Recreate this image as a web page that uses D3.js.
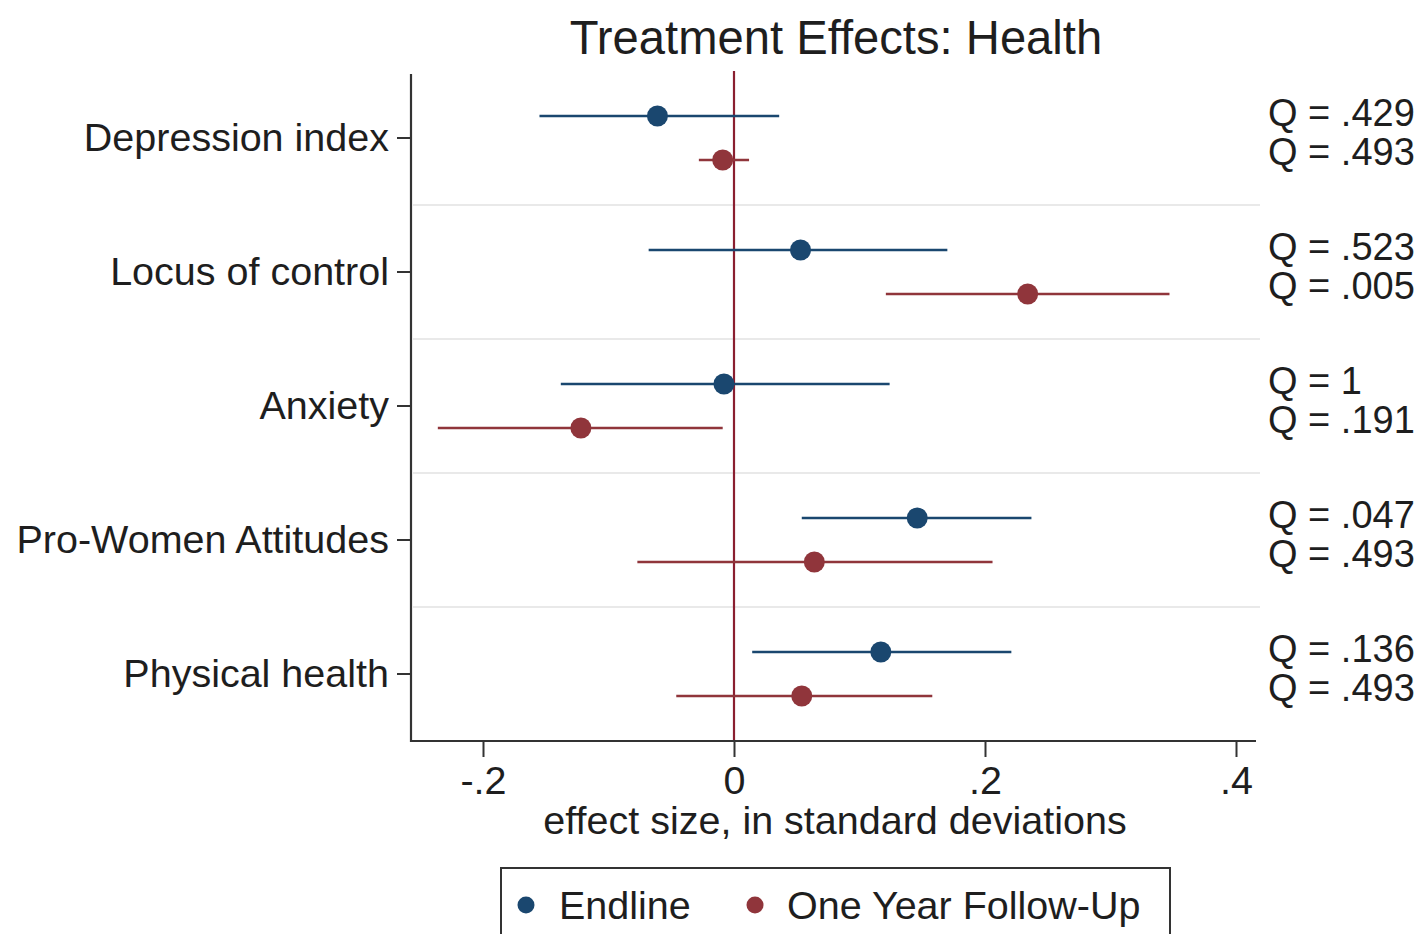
<!DOCTYPE html>
<html>
<head>
<meta charset="utf-8">
<script src="https://cdn.jsdelivr.net/npm/d3@7"></script>
<style>
  html, body { margin: 0; padding: 0; background: #fff; }
  svg { display: block; font-family: "Liberation Sans", Arial, Helvetica, sans-serif; }
</style>
</head>
<body>
<svg id="chart" width="1424" height="934"></svg>
<script>
// Outcome families, top to bottom
const categories = ["Depression index", "Locus of control", "Anxiety", "Pro-Women Attitudes", "Physical health"];

// Point estimates and 95% confidence bounds (effect size, SD units)
const endlineEst  = [-0.061, 0.053, -0.008, 0.146, 0.117];
const endlineLo   = [-0.155, -0.068, -0.138, 0.054, 0.0145];
const endlineHi   = [0.036, 0.170, 0.124, 0.237, 0.221];

const followEst   = [-0.009, 0.234, -0.122, 0.064, 0.054];
const followLo    = [-0.028, 0.121, -0.236, -0.077, -0.046];
const followHi    = [0.012, 0.347, -0.009, 0.206, 0.158];

// Sharpened q-values shown at the right margin
const endlineQ = [".429", ".523", "1", ".047", ".136"];
const followQ  = [".493", ".005", ".191", ".493", ".493"];

const xTicks = [-0.2, 0, 0.2, 0.4];
const xTickLabels = ["-.2", "0", ".2", ".4"];

const seriesNames = ["Endline", "One Year Follow-Up"];
const seriesColors = ["#1a476f", "#90353b"];

const svg = d3.select("#chart");
const FONT = 39.5;
const Q_FONT = 38;
const ink = "#1e1e1e";

const plotLeft = 411, plotRight = 1258, plotTop = 71, plotBottom = 741;

const x = d3.scaleLinear().domain([-0.2, 0.4]).range([483, 1236]);
const y = d3.scaleBand().domain(categories).range([plotTop, plotBottom]).padding(0);
const offset = 22;

const series = [
  { name: seriesNames[0], color: seriesColors[0], est: endlineEst, lo: endlineLo, hi: endlineHi, dy: -offset },
  { name: seriesNames[1], color: seriesColors[1], est: followEst,  lo: followLo,  hi: followHi,  dy: offset }
];

// Horizontal separators between outcome bands
svg.append("g").selectAll("line")
  .data(categories.slice(1))
  .join("line")
  .attr("x1", plotLeft + 2).attr("x2", plotRight + 2)
  .attr("y1", d => y(d)).attr("y2", d => y(d))
  .attr("stroke", "#e9e9e9").attr("stroke-width", 2);

// Reference line at zero
svg.append("line")
  .attr("x1", x(0)).attr("x2", x(0))
  .attr("y1", plotTop).attr("y2", plotBottom)
  .attr("stroke", "#8a1f30").attr("stroke-width", 2.2);

// Confidence intervals and point estimates
series.forEach(s => {
  const rows = categories.map((c, i) => ({ c, est: s.est[i], lo: s.lo[i], hi: s.hi[i] }));
  const g = svg.append("g");
  g.selectAll("line")
    .data(rows)
    .join("line")
    .attr("x1", d => x(d.lo)).attr("x2", d => x(d.hi))
    .attr("y1", d => y(d.c) + y.bandwidth() / 2 + s.dy)
    .attr("y2", d => y(d.c) + y.bandwidth() / 2 + s.dy)
    .attr("stroke", s.color).attr("stroke-width", 2.6);
  g.selectAll("circle")
    .data(rows)
    .join("circle")
    .attr("cx", d => x(d.est))
    .attr("cy", d => y(d.c) + y.bandwidth() / 2 + s.dy)
    .attr("r", 10.5)
    .attr("fill", s.color);
});

// X axis
const xAxis = svg.append("g")
  .attr("transform", `translate(0,${plotBottom})`)
  .call(d3.axisBottom(x).tickValues(xTicks).tickFormat((d, i) => xTickLabels[i]).tickSize(16).tickPadding(9));
xAxis.select(".domain").remove();
xAxis.selectAll(".tick line").attr("stroke", "#333").attr("stroke-width", 2);
xAxis.selectAll("text").attr("font-size", FONT).attr("fill", ink);
svg.append("line")
  .attr("x1", plotLeft - 1).attr("x2", 1256)
  .attr("y1", plotBottom).attr("y2", plotBottom)
  .attr("stroke", "#333").attr("stroke-width", 2.2);

// Y axis
const yAxis = svg.append("g")
  .attr("transform", `translate(${plotLeft},0)`)
  .call(d3.axisLeft(y).tickSize(14).tickPadding(8));
yAxis.select(".domain").remove();
yAxis.selectAll(".tick line").attr("stroke", "#333").attr("stroke-width", 2);
yAxis.selectAll("text").attr("font-size", FONT).attr("fill", ink);
svg.append("line")
  .attr("x1", plotLeft).attr("x2", plotLeft)
  .attr("y1", plotTop + 3).attr("y2", plotBottom + 1)
  .attr("stroke", "#333").attr("stroke-width", 2.2);

// Q-value annotations
const qg = svg.append("g").attr("font-size", Q_FONT).attr("fill", ink);
categories.forEach((c, i) => {
  const cy = y(c) + y.bandwidth() / 2;
  qg.append("text").attr("x", 1268).attr("y", cy - 12).text("Q = " + endlineQ[i]);
  qg.append("text").attr("x", 1268).attr("y", cy + 27).text("Q = " + followQ[i]);
});

// Title
svg.append("text")
  .attr("x", 836).attr("y", 54)
  .attr("text-anchor", "middle")
  .attr("font-size", 47.2).attr("fill", ink)
  .text("Treatment Effects: Health");

// X axis title
svg.append("text")
  .attr("x", 835).attr("y", 834)
  .attr("text-anchor", "middle")
  .attr("font-size", FONT).attr("fill", ink)
  .text("effect size, in standard deviations");

// Legend
const legend = svg.append("g");
legend.append("rect")
  .attr("x", 501).attr("y", 868).attr("width", 669).attr("height", 90)
  .attr("fill", "#fff").attr("stroke", "#333").attr("stroke-width", 2);
const legendItems = [
  { name: seriesNames[0], color: seriesColors[0], cx: 526, tx: 559 },
  { name: seriesNames[1], color: seriesColors[1], cx: 755, tx: 787 }
];
legendItems.forEach(d => {
  legend.append("circle").attr("cx", d.cx).attr("cy", 905).attr("r", 8.5).attr("fill", d.color);
  legend.append("text").attr("x", d.tx).attr("y", 919)
    .attr("font-size", FONT).attr("fill", ink).text(d.name);
});
</script>
</body>
</html>
